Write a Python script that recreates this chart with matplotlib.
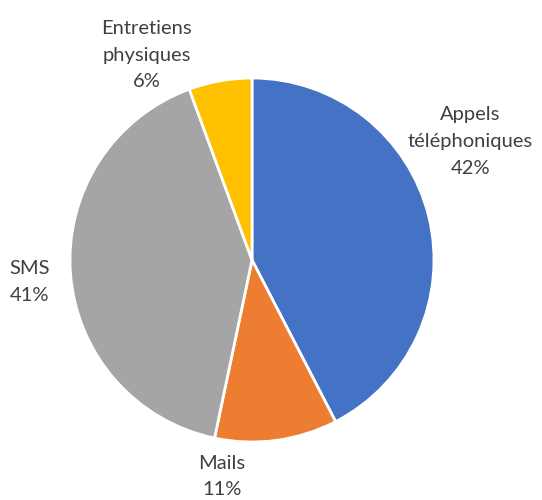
import matplotlib.pyplot as plt
import numpy as np

# Données du graphique
categories = ['Appels\ntéléphoniques', 'Mails', 'SMS', 'Entretiens\nphysiques']
valeurs = [42.4, 10.9, 41.1, 5.6]
couleurs = ['#4472C4', '#ED7D31', '#A5A5A5', '#FFC000']

plt.rcParams['font.family'] = ['Lato', 'DejaVu Sans']

fig = plt.figure(figsize=(5.42, 5.0), dpi=100)
ax = fig.add_axes([0, 0, 1, 1])

wedges, _ = ax.pie(valeurs, colors=couleurs, startangle=90, counterclock=False,
                   radius=1.0, wedgeprops=dict(edgecolor='white', linewidth=2))

# positions des étiquettes (centre du texte, unités du rayon)
pos_etiquettes = [(1.20, 0.65), (-0.165, -1.19), (-1.22, -0.12), (-0.58, 1.126)]
total = sum(valeurs)
for cat, v, (x, y) in zip(categories, valeurs, pos_etiquettes):
    ax.text(x, y, f'{cat}\n{round(v / total * 100):.0f}%', ha='center', va='center',
            fontsize=14.5, color='#404040', linespacing=1.7)

ax.set_xlim(-252 / 182, 290 / 182)
ax.set_ylim(-240 / 182, 260 / 182)
ax.set_aspect('equal')
ax.axis('off')

fig.savefig('out.png', dpi=100)
